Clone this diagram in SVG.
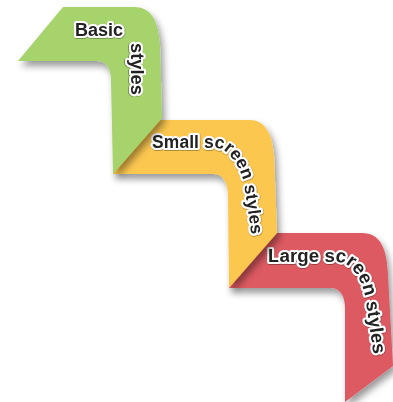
<svg xmlns="http://www.w3.org/2000/svg" width="393" height="402" viewBox="0 0 393 402">
<defs>
<filter id="sh" x="-20%" y="-20%" width="150%" height="150%"><feDropShadow dx="3" dy="5" stdDeviation="3.5" flood-color="#000" flood-opacity="0.4"/></filter>
<filter id="ts" x="-10%" y="-10%" width="120%" height="120%"><feDropShadow dx="0.3" dy="0.5" stdDeviation="0.7" flood-color="#000" flood-opacity="0.6"/></filter>
<path id="p2" d="M 152 148 H 216 C 229 148, 243 170, 245 190 L 254 252"/>
<path id="p3" d="M 268 262 H 338 C 352 262, 364 282, 366 302 L 375 365"/>
</defs>
<style>
.shape{filter:url(#sh)}
.lbl{font-family:"Liberation Sans",Arial,sans-serif;font-weight:bold;fill:#222;stroke:#fff;stroke-width:4.2;stroke-linejoin:round;paint-order:stroke fill;filter:url(#ts)}
</style>
<rect width="393" height="402" fill="#fff"/>
<g id="large">
<path class="shape" fill="#dd5a62" d="M 245 233 H 362 C 380 233, 387 248, 388 275 L 393 366 L 345 402 L 345 308 C 345 296, 340 288, 331 288 H 229 Z"/>
<text class="lbl" font-size="18.8"><textPath href="#p3">Large screen styles</textPath></text>
</g>
<g id="small">
<path class="shape" fill="#fcc74f" d="M 130 120 H 250 C 264 120, 272 132, 274 155 L 277 233 L 229 288 L 228 196 C 228 183, 223 174, 214 174 H 113 Z"/>
<text class="lbl" font-size="17.6"><textPath href="#p2">Small screen styles</textPath></text>
</g>
<g id="basic">
<path class="shape" fill="#a7d36c" d="M 63 7 H 134 C 150 7, 158 18, 160 45 L 162 118 L 113 174 L 111 80 C 111 68, 106 61, 97 61 H 18 Z"/>
<text class="lbl" x="75" y="36" font-size="18">Basic</text>
<text class="lbl" font-size="18.3" transform="translate(131 43) rotate(90)">styles</text>
</g>
<g id="connectors"></g>
</svg>
